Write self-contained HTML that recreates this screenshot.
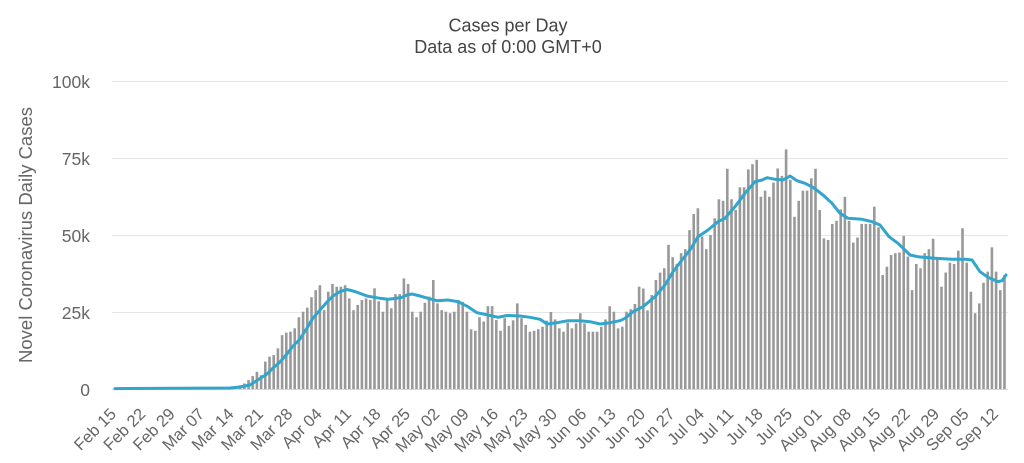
<!DOCTYPE html>
<html><head><meta charset="utf-8"><style>
html,body{margin:0;padding:0;background:#fff;}
svg{display:block;font-family:"Liberation Sans","DejaVu Sans",sans-serif;}
</style></head><body>
<svg width="1024" height="463" viewBox="0 0 1024 463" xmlns="http://www.w3.org/2000/svg">
<rect width="1024" height="463" fill="#fff"/>
<text x="508" y="31.5" text-anchor="middle" font-size="18" fill="#444">Cases per Day</text>
<text x="508" y="53" text-anchor="middle" font-size="18" fill="#444">Data as of 0:00 GMT+0</text>
<g stroke="#e6e6e6" stroke-width="1">
<line x1="112" y1="81.5" x2="1008" y2="81.5"/>
<line x1="112" y1="158.5" x2="1008" y2="158.5"/>
<line x1="112" y1="235.5" x2="1008" y2="235.5"/>
<line x1="112" y1="312.5" x2="1008" y2="312.5"/>
</g>
<g font-size="17.5" fill="#666" text-anchor="end">
<text x="90" y="88">100k</text>
<text x="90" y="165">75k</text>
<text x="90" y="242">50k</text>
<text x="90" y="319">25k</text>
<text x="90" y="396">0</text>
</g>
<text transform="translate(32,235) rotate(-90)" text-anchor="middle" font-size="18.5" fill="#666">Novel Coronavirus Daily Cases</text>
<g fill="#999" transform="translate(112,389) scale(4.2,-3.08)">
<rect x="21.19" width=".62" height=".1"/><rect x="22.19" width=".62" height=".1"/><rect x="23.19" width=".62" height=".15"/><rect x="24.19" width=".62" height=".3"/><rect x="25.19" width=".62" height=".4"/><rect x="26.19" width=".62" height=".5"/><rect x="27.19" width=".62" height=".6"/><rect x="28.19" width=".62" height=".7"/><rect x="29.19" width=".62" height=".8"/><rect x="30.19" width=".62" height="1.2"/>
<rect x="31.19" width=".62" height="1.8"/><rect x="32.19" width=".62" height="2.9"/><rect x="33.19" width=".62" height="4.2"/><rect x="34.19" width=".62" height="5.6"/><rect x="35.19" width=".62" height="4.5"/><rect x="36.19" width=".62" height="8.9"/><rect x="37.19" width=".62" height="10.5"/><rect x="38.19" width=".62" height="11"/><rect x="39.19" width=".62" height="13.2"/><rect x="40.19" width=".62" height="17.5"/>
<rect x="41.19" width=".62" height="18.3"/><rect x="42.19" width=".62" height="18.6"/><rect x="43.19" width=".62" height="19.7"/><rect x="44.19" width=".62" height="23.3"/><rect x="45.19" width=".62" height="25.1"/><rect x="46.19" width=".62" height="26.4"/><rect x="47.19" width=".62" height="29.8"/><rect x="48.19" width=".62" height="32.1"/><rect x="49.19" width=".62" height="33.7"/><rect x="50.19" width=".62" height="25.6"/>
<rect x="51.19" width=".62" height="31.6"/><rect x="52.19" width=".62" height="34.1"/><rect x="53.19" width=".62" height="33.2"/><rect x="54.19" width=".62" height="33.2"/><rect x="55.19" width=".62" height="33.7"/><rect x="56.19" width=".62" height="29.4"/><rect x="57.19" width=".62" height="25.6"/><rect x="58.19" width=".62" height="27.3"/><rect x="59.19" width=".62" height="28.9"/><rect x="60.19" width=".62" height="29.4"/>
<rect x="61.19" width=".62" height="28.9"/><rect x="62.19" width=".62" height="32.7"/><rect x="63.19" width=".62" height="28.5"/><rect x="64.19" width=".62" height="25.1"/><rect x="65.19" width=".62" height="28.9"/><rect x="66.19" width=".62" height="26.2"/><rect x="67.19" width=".62" height="30.8"/><rect x="68.19" width=".62" height="30.8"/><rect x="69.19" width=".62" height="35.9"/><rect x="70.19" width=".62" height="34.1"/>
<rect x="71.19" width=".62" height="25.1"/><rect x="72.19" width=".62" height="23.3"/><rect x="73.19" width=".62" height="25.1"/><rect x="74.19" width=".62" height="28"/><rect x="75.19" width=".62" height="30"/><rect x="76.19" width=".62" height="35.4"/><rect x="77.19" width=".62" height="27.8"/><rect x="78.19" width=".62" height="25.6"/><rect x="79.19" width=".62" height="25.1"/><rect x="80.19" width=".62" height="24.6"/>
<rect x="81.19" width=".62" height="25.1"/><rect x="82.19" width=".62" height="28.9"/><rect x="83.19" width=".62" height="28.3"/><rect x="84.19" width=".62" height="25.1"/><rect x="85.19" width=".62" height="19.4"/><rect x="86.19" width=".62" height="18.9"/><rect x="87.19" width=".62" height="23.3"/><rect x="88.19" width=".62" height="21.9"/><rect x="89.19" width=".62" height="26.9"/><rect x="90.19" width=".62" height="26.9"/>
<rect x="91.19" width=".62" height="22.4"/><rect x="92.19" width=".62" height="18.9"/><rect x="93.19" width=".62" height="23"/><rect x="94.19" width=".62" height="20.5"/><rect x="95.19" width=".62" height="22.3"/><rect x="96.19" width=".62" height="27.8"/><rect x="97.19" width=".62" height="23"/><rect x="98.19" width=".62" height="20.8"/><rect x="99.19" width=".62" height="18.6"/><rect x="100.19" width=".62" height="18.9"/>
<rect x="101.19" width=".62" height="19.4"/><rect x="102.19" width=".62" height="20.2"/><rect x="103.19" width=".62" height="22.2"/><rect x="104.19" width=".62" height="25"/><rect x="105.19" width=".62" height="22.6"/><rect x="106.19" width=".62" height="19.7"/><rect x="107.19" width=".62" height="18.6"/><rect x="108.19" width=".62" height="21.5"/><rect x="109.19" width=".62" height="19.7"/><rect x="110.19" width=".62" height="21.3"/>
<rect x="111.19" width=".62" height="24.6"/><rect x="112.19" width=".62" height="21.3"/><rect x="113.19" width=".62" height="18.6"/><rect x="114.19" width=".62" height="18.6"/><rect x="115.19" width=".62" height="18.6"/><rect x="116.19" width=".62" height="20.2"/><rect x="117.19" width=".62" height="22.6"/><rect x="118.19" width=".62" height="26.9"/><rect x="119.19" width=".62" height="25.1"/><rect x="120.19" width=".62" height="19.7"/>
<rect x="121.19" width=".62" height="20.2"/><rect x="122.19" width=".62" height="25.1"/><rect x="123.19" width=".62" height="25.9"/><rect x="124.19" width=".62" height="27.6"/><rect x="125.19" width=".62" height="33.2"/><rect x="126.19" width=".62" height="32.6"/><rect x="127.19" width=".62" height="25.5"/><rect x="128.19" width=".62" height="30.5"/><rect x="129.19" width=".62" height="35.4"/><rect x="130.19" width=".62" height="37.8"/>
<rect x="131.19" width=".62" height="39.2"/><rect x="132.19" width=".62" height="46.8"/><rect x="133.19" width=".62" height="42.8"/><rect x="134.19" width=".62" height="40.6"/><rect x="135.19" width=".62" height="44.1"/><rect x="136.19" width=".62" height="45.4"/><rect x="137.19" width=".62" height="51.6"/><rect x="138.19" width=".62" height="56.8"/><rect x="139.19" width=".62" height="58.7"/><rect x="140.19" width=".62" height="49.5"/>
<rect x="141.19" width=".62" height="45.4"/><rect x="142.19" width=".62" height="50"/><rect x="143.19" width=".62" height="55.4"/><rect x="144.19" width=".62" height="61.6"/><rect x="145.19" width=".62" height="61.1"/><rect x="146.19" width=".62" height="71.5"/><rect x="147.19" width=".62" height="61.6"/><rect x="148.19" width=".62" height="58.1"/><rect x="149.19" width=".62" height="65.5"/><rect x="150.19" width=".62" height="65.5"/>
<rect x="151.19" width=".62" height="71.3"/><rect x="152.19" width=".62" height="73"/><rect x="153.19" width=".62" height="74.4"/><rect x="154.19" width=".62" height="62.4"/><rect x="155.19" width=".62" height="64.4"/><rect x="156.19" width=".62" height="62.4"/><rect x="157.19" width=".62" height="67"/><rect x="158.19" width=".62" height="71.6"/><rect x="159.19" width=".62" height="69.2"/><rect x="160.19" width=".62" height="77.8"/>
<rect x="161.19" width=".62" height="67.9"/><rect x="162.19" width=".62" height="55.9"/><rect x="163.19" width=".62" height="61.1"/><rect x="164.19" width=".62" height="64.4"/><rect x="165.19" width=".62" height="64.4"/><rect x="166.19" width=".62" height="68.4"/><rect x="167.19" width=".62" height="71.5"/><rect x="168.19" width=".62" height="58.1"/><rect x="169.19" width=".62" height="48.9"/><rect x="170.19" width=".62" height="48.4"/>
<rect x="171.19" width=".62" height="53.6"/><rect x="172.19" width=".62" height="54.6"/><rect x="173.19" width=".62" height="58.3"/><rect x="174.19" width=".62" height="62.4"/><rect x="175.19" width=".62" height="54.6"/><rect x="176.19" width=".62" height="47.5"/><rect x="177.19" width=".62" height="49.2"/><rect x="178.19" width=".62" height="53.6"/><rect x="179.19" width=".62" height="53.6"/><rect x="180.19" width=".62" height="53.6"/>
<rect x="181.19" width=".62" height="59.2"/><rect x="182.19" width=".62" height="52.5"/><rect x="183.19" width=".62" height="37"/><rect x="184.19" width=".62" height="39.7"/><rect x="185.19" width=".62" height="43.5"/><rect x="186.19" width=".62" height="44.1"/><rect x="187.19" width=".62" height="44.3"/><rect x="188.19" width=".62" height="49.7"/><rect x="189.19" width=".62" height="43"/><rect x="190.19" width=".62" height="32.1"/>
<rect x="191.19" width=".62" height="40.6"/><rect x="192.19" width=".62" height="39.2"/><rect x="193.19" width=".62" height="44.1"/><rect x="194.19" width=".62" height="45.4"/><rect x="195.19" width=".62" height="48.8"/><rect x="196.19" width=".62" height="42.4"/><rect x="197.19" width=".62" height="33.2"/><rect x="198.19" width=".62" height="37.8"/><rect x="199.19" width=".62" height="41"/><rect x="200.19" width=".62" height="40.6"/>
<rect x="201.19" width=".62" height="44.9"/><rect x="202.19" width=".62" height="52.2"/><rect x="203.19" width=".62" height="41"/><rect x="204.19" width=".62" height="31.6"/><rect x="205.19" width=".62" height="24.6"/><rect x="206.19" width=".62" height="27.8"/><rect x="207.19" width=".62" height="34.5"/><rect x="208.19" width=".62" height="38.1"/><rect x="209.19" width=".62" height="46"/><rect x="210.19" width=".62" height="38.1"/>
<rect x="211.19" width=".62" height="32.1"/><rect x="212.19" width=".62" height="37"/>
</g>
<line x1="112" y1="389.5" x2="1008" y2="389.5" stroke="#ccd6eb" stroke-width="1"/>
<polyline fill="none" stroke="#32a5cc" stroke-width="3" stroke-linejoin="round" stroke-linecap="round" points="115,388.6 230,388 240,387 250,385 260,378.5 267,374 273,368 280,362 287,354 293,346 300,339 307,328 313,318 320,310 327,302 333,296 340,291.5 347,289.5 355,291.5 367,296 380,298.3 388,299.3 395,298.5 402,297.3 407,295 412,294 420,296 428,298.3 437,300.7 448,300 458,301.7 468,306.7 477,312.7 488,315 498,317.3 507,315.5 520,316 530,317.3 540,319.3 547,324 557,322.7 568,320.7 580,320.7 590,321.7 600,324 610,322.7 620,320.7 625,318.3 633,311.7 643,306.7 655,296.7 665,285 673,271.7 682,260 690,250 698,236.7 708,230 718,221.7 725,218.3 735,206.7 745,193.3 755,181.7 762,180 767,177.7 775,179.3 783,180 790,176 797,180.7 805,183.3 813,187.3 823,195 832,203.3 840,213.3 848,218.3 862,219.3 872,221.7 880,225 889,236.7 898,243.3 910,255 918,256.7 935,258.3 952,259.3 965,259.3 972,260 980,271.7 988,277.3 998,281.7 1002,280.7 1006,275"/>
<g font-size="16.5" fill="#666" text-anchor="end">
<text transform="translate(117.1,415) rotate(-45)">Feb 15</text>
<text transform="translate(146.5,415) rotate(-45)">Feb 22</text>
<text transform="translate(175.9,415) rotate(-45)">Feb 29</text>
<text transform="translate(205.3,415) rotate(-45)">Mar 07</text>
<text transform="translate(234.7,415) rotate(-45)">Mar 14</text>
<text transform="translate(264.1,415) rotate(-45)">Mar 21</text>
<text transform="translate(293.5,415) rotate(-45)">Mar 28</text>
<text transform="translate(322.9,415) rotate(-45)">Apr 04</text>
<text transform="translate(352.3,415) rotate(-45)">Apr 11</text>
<text transform="translate(381.7,415) rotate(-45)">Apr 18</text>
<text transform="translate(411.1,415) rotate(-45)">Apr 25</text>
<text transform="translate(440.5,415) rotate(-45)">May 02</text>
<text transform="translate(469.9,415) rotate(-45)">May 09</text>
<text transform="translate(499.3,415) rotate(-45)">May 16</text>
<text transform="translate(528.7,415) rotate(-45)">May 23</text>
<text transform="translate(558.1,415) rotate(-45)">May 30</text>
<text transform="translate(587.5,415) rotate(-45)">Jun 06</text>
<text transform="translate(616.9,415) rotate(-45)">Jun 13</text>
<text transform="translate(646.3,415) rotate(-45)">Jun 20</text>
<text transform="translate(675.7,415) rotate(-45)">Jun 27</text>
<text transform="translate(705.1,415) rotate(-45)">Jul 04</text>
<text transform="translate(734.5,415) rotate(-45)">Jul 11</text>
<text transform="translate(763.9,415) rotate(-45)">Jul 18</text>
<text transform="translate(793.3,415) rotate(-45)">Jul 25</text>
<text transform="translate(822.7,415) rotate(-45)">Aug 01</text>
<text transform="translate(852.1,415) rotate(-45)">Aug 08</text>
<text transform="translate(881.5,415) rotate(-45)">Aug 15</text>
<text transform="translate(910.9,415) rotate(-45)">Aug 22</text>
<text transform="translate(940.3,415) rotate(-45)">Aug 29</text>
<text transform="translate(969.7,415) rotate(-45)">Sep 05</text>
<text transform="translate(999.1,415) rotate(-45)">Sep 12</text>
</g>
</svg>
</body></html>
